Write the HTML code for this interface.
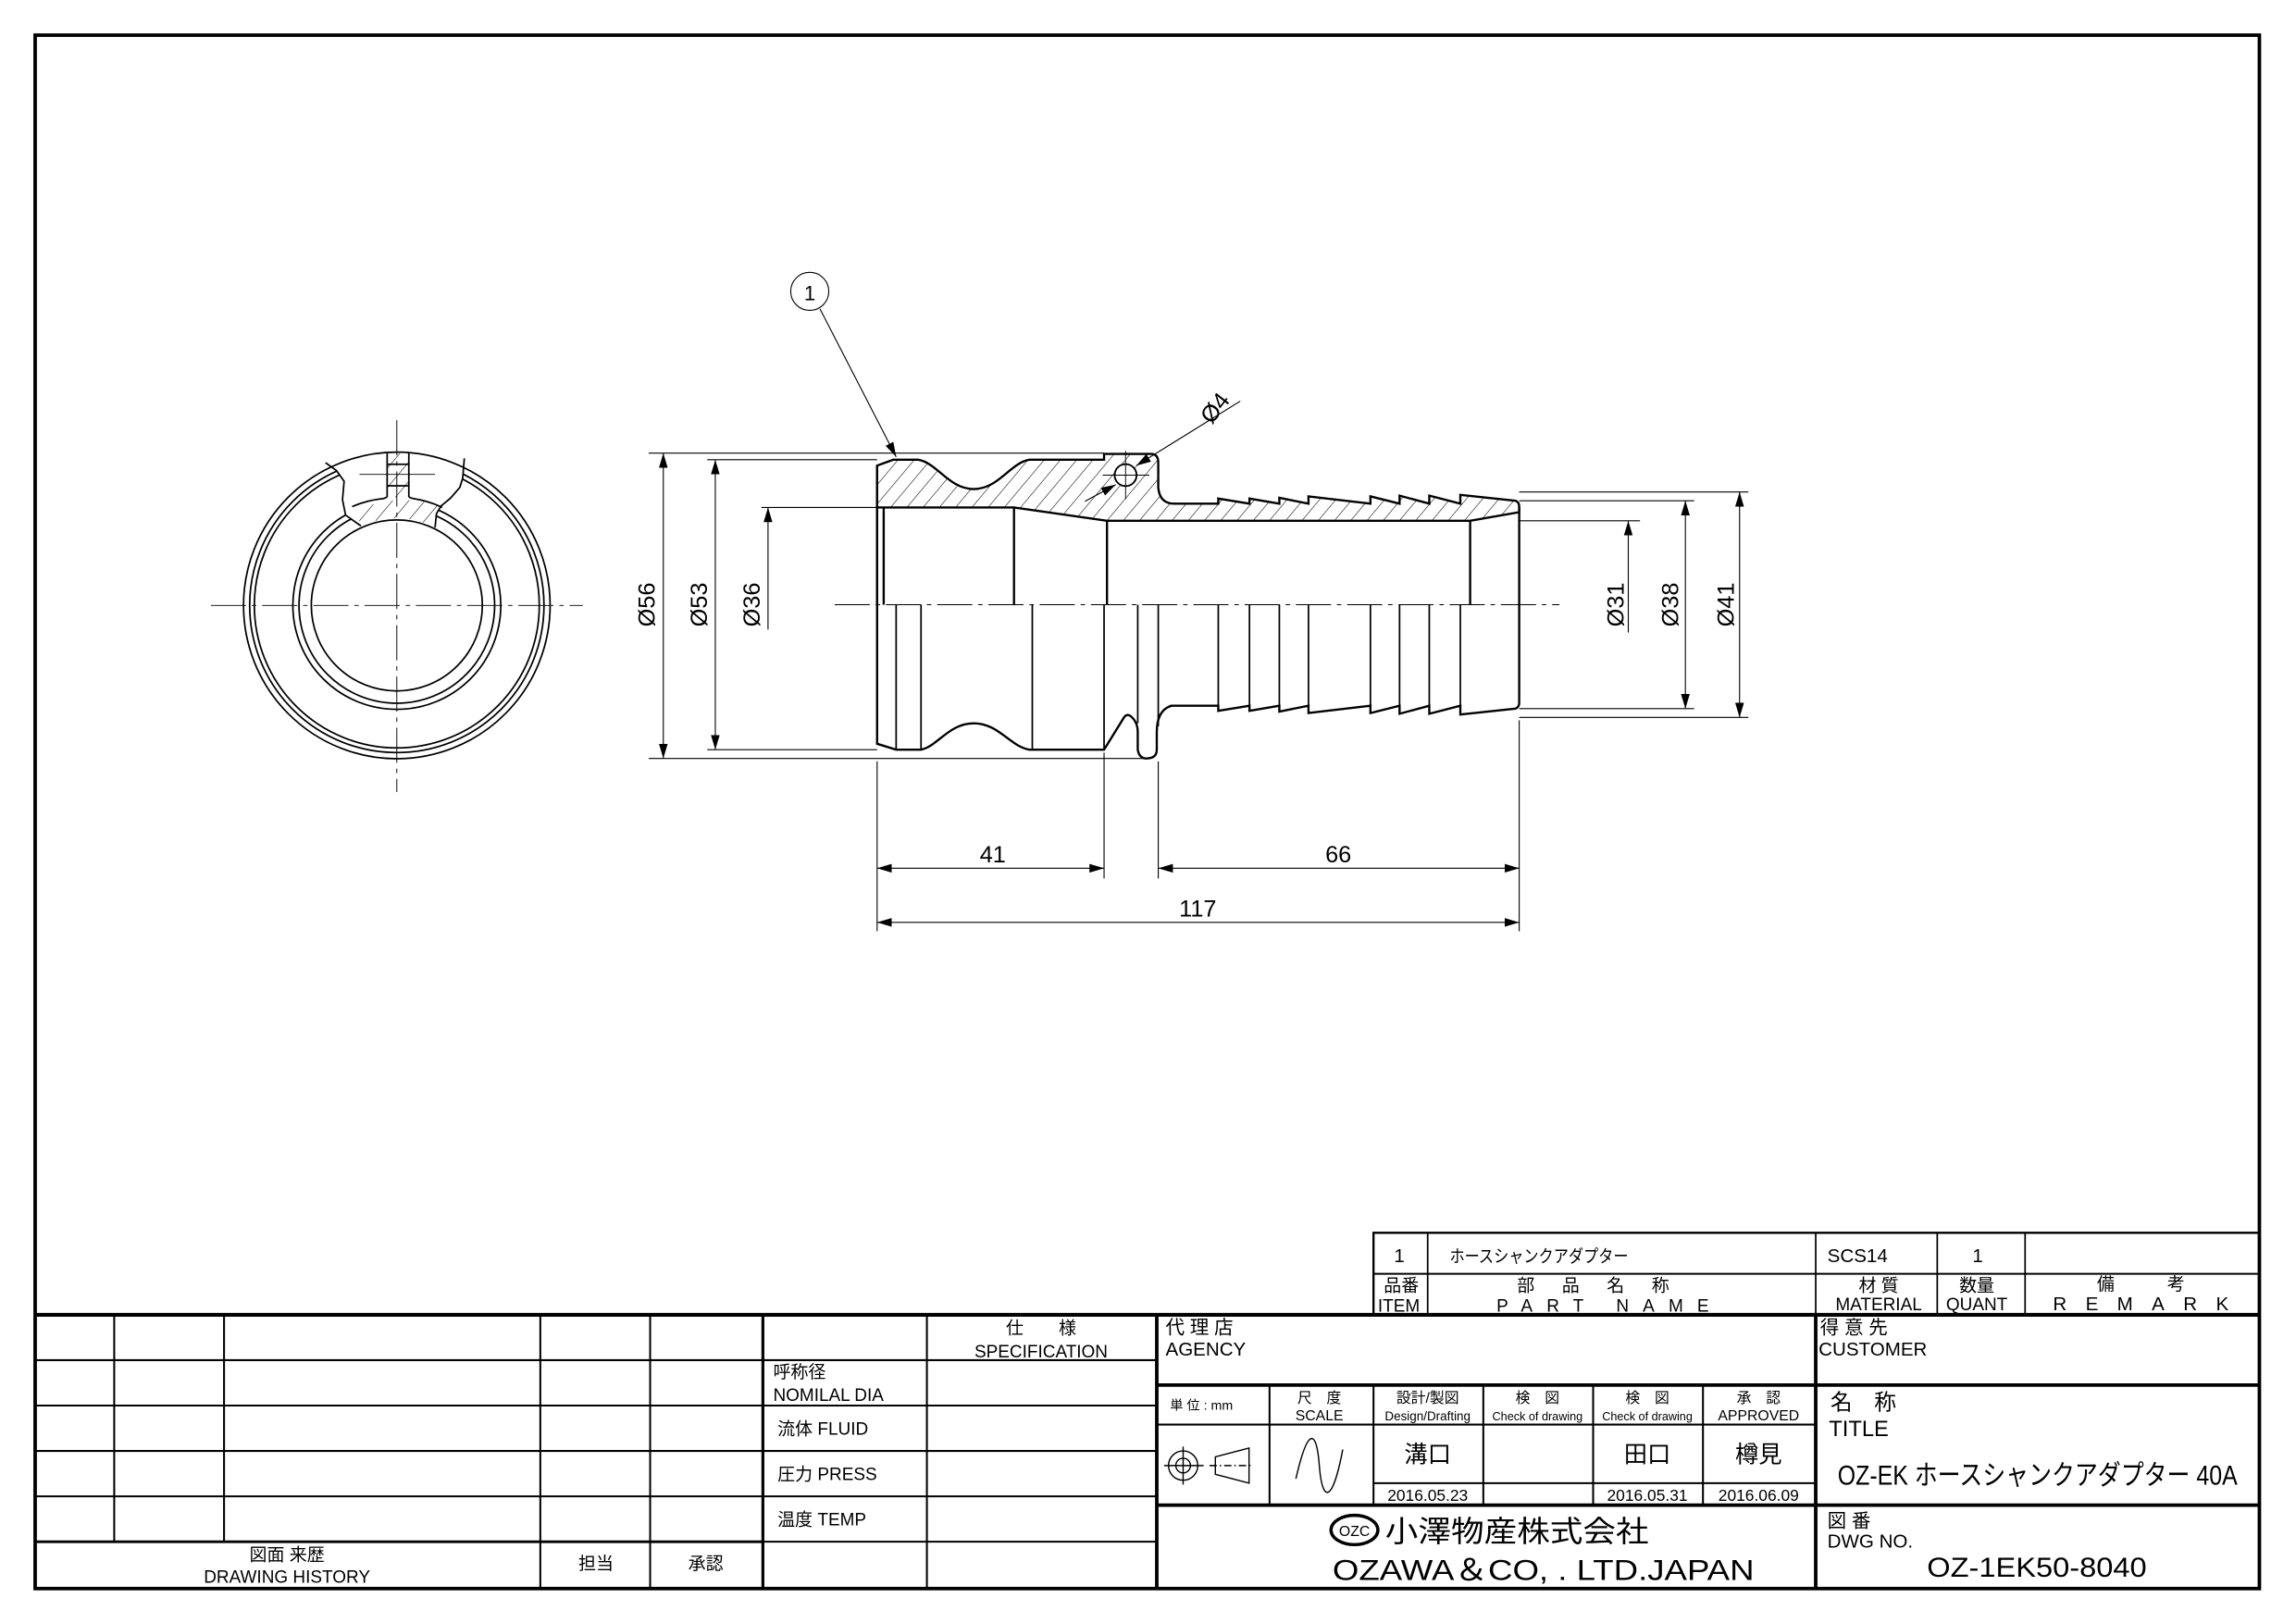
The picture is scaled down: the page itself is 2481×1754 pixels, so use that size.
<!DOCTYPE html>
<html><head><meta charset="utf-8"><style>
html,body{margin:0;padding:0;background:#fff}
svg{display:block}
text{font-family:"Liberation Sans","Noto Sans CJK JP",sans-serif;fill:#000}
</style></head><body>
<svg width="2481" height="1754" viewBox="0 0 1568 1108.5" xmlns="http://www.w3.org/2000/svg">
<defs>
<pattern id="h" patternUnits="userSpaceOnUse" width="8.5" height="8.5" patternTransform="rotate(40)">
<line x1="0" y1="0" x2="0" y2="8.5" stroke="#000" stroke-width="0.7"/></pattern>
<marker id="a" viewBox="0 0 10 6" refX="10" refY="3" markerWidth="10" markerHeight="6" markerUnits="userSpaceOnUse" orient="auto-start-reverse"><path d="M0 0L10 3L0 6Z"/></marker>
</defs>
<rect x="0" y="0" width="1568" height="1108.5" fill="#fff"/>

<!-- ===== end view ===== -->
<g fill="none" stroke="#000" stroke-width="1.1">
<circle cx="271" cy="413.5" r="100.5"/>
<circle cx="271" cy="413.5" r="97.3"/>
<circle cx="271" cy="413.5" r="71"/>
<circle cx="271" cy="413.5" r="66.8"/>
<!-- cutout white -->
<path d="M225 300 L229.7 321.3 L235 328.7 L233.9 341.3 L236 351.8 L246.5 359.2 A58.4 58.4 0 0 1 297.1 360.3 L298.1 350.8 L301.3 345.5 L307.6 340.3 L314 332.9 L316 326.6 L317.1 300 Z" fill="#fff" stroke="none"/>
<path d="M243 349 A73.5 73.5 0 0 1 301 346 L298.1 350.8 L297.1 360.3 A58.4 58.4 0 0 0 246.5 359.2 Z" fill="url(#h)" stroke="none"/>
<rect x="264.4" y="309.7" width="14.8" height="30" fill="url(#h)" stroke="none"/>
<circle cx="271" cy="413.5" r="104.7"/>
<circle cx="271" cy="413.5" r="58.4"/>
<path d="M222.3 316 L229.7 321.3 L235 328.7 L233.9 341.3 L236 351.8 L246.5 359.2"/>
<path d="M317.1 313 L316 326.6 L314 332.9 L307.6 340.3 L301.3 345.5 L298.1 350.8 L297.1 360.3"/>
<path d="M240.5 346 A73.5 73.5 0 0 1 262 340.5 L264.4 339.5 M279.2 339.5 L282 340.5 A73.5 73.5 0 0 1 302 346.5"/>
<line x1="264.4" y1="309.7" x2="264.4" y2="339.5"/>
<line x1="279.2" y1="309.7" x2="279.2" y2="339.5"/>
<line x1="264.4" y1="317.1" x2="279.2" y2="317.1"/>
<line x1="264.4" y1="331.8" x2="279.2" y2="331.8"/>
<line x1="245.5" y1="324" x2="297.1" y2="324" stroke-width="0.6"/>
<line x1="144" y1="413.5" x2="398" y2="413.5" stroke-width="0.6" stroke-dasharray="24,4,3,4"/>
<line x1="271" y1="287" x2="271" y2="541" stroke-width="0.6" stroke-dasharray="24,4,3,4"/>
</g>

<!-- ===== side section ===== -->
<path d="M599 413 L599 318 L610 314 L627 314 C640 316 648 334 665 334 C682 334 690 316 703 314 L754 314 L754 310 L786 310 Q791 310 791 316 L791 333 Q792 344 802 344 L832 344 L832 340.5 L853.3 344 L853.3 340.5 L873.7 344 L873.7 340 L893.6 344 L893.6 339 L935.9 344 L935.9 339 L955.8 344 L955.8 338.5 L976.1 344 L976.1 338.5 L997.3 344 L997.3 338 L1035 342 Q1037.5 343 1037.5 346 L1037.5 349.8 L1004 355.7 L756 355.7 L692.5 346.6 L599 346.6 Z" fill="url(#h)" stroke="#000" stroke-width="1.5"/>
<circle cx="768.7" cy="324.5" r="7.5" fill="#fff" stroke="#000" stroke-width="1.2"/>
<g stroke="#000" stroke-width="0.6" fill="none">
<line x1="768.7" y1="308" x2="768.7" y2="341"/>
<line x1="753" y1="324.5" x2="785" y2="324.5"/>
</g>
<g fill="none" stroke="#000" stroke-width="1.5">
<path d="M599 318 L599 508 L612 512 L629 512 C640 510 648 494 665 494 C682 494 690 510 703 512 L754 512 L767 491 Q769 487 772 489 Q777 493 777 500 L777 512 Q778 518 783 518 Q790 518 790 512 L790 500 Q790 485 800 482 L832 482 L832 485.5 L853.3 482 L853.3 485.5 L873.7 482 L873.7 486 L893.6 482 L893.6 487 L935.9 482 L935.9 487 L955.8 482 L955.8 487.5 L976.1 482 L976.1 487.5 L997.3 482 L997.3 488 L1035 484 Q1037.5 483 1037.5 480 L1037.5 346"/>
<line x1="603.5" y1="346.6" x2="603.5" y2="413"/>
<line x1="692.5" y1="346.6" x2="692.5" y2="413"/>
<line x1="756" y1="355.7" x2="756" y2="413"/>
<line x1="1004" y1="355.7" x2="1004" y2="413"/>
</g>
<g fill="none" stroke="#000" stroke-width="1.1">
<line x1="612" y1="413" x2="612" y2="512"/>
<line x1="629" y1="413" x2="629" y2="512"/>
<line x1="705" y1="413" x2="705" y2="512"/>
<line x1="754" y1="413" x2="754" y2="512"/>
<line x1="777" y1="413" x2="777" y2="494"/>
<line x1="791" y1="413" x2="791" y2="496"/>
<line x1="832" y1="413" x2="832" y2="485.5"/>
<line x1="853.3" y1="413" x2="853.3" y2="485.5"/>
<line x1="873.7" y1="413" x2="873.7" y2="486"/>
<line x1="893.6" y1="413" x2="893.6" y2="487"/>
<line x1="935.9" y1="413" x2="935.9" y2="487"/>
<line x1="955.8" y1="413" x2="955.8" y2="487.5"/>
<line x1="976.1" y1="413" x2="976.1" y2="487.5"/>
<line x1="997.3" y1="413" x2="997.3" y2="488"/>
</g>
<line x1="570" y1="413" x2="1065" y2="413" stroke="#000" stroke-width="0.6" stroke-dasharray="24,4,3,4"/>

<!-- dimensions -->
<g stroke="#000" stroke-width="0.7" fill="none">
<line x1="443" y1="309.5" x2="754" y2="309.5"/>
<line x1="443" y1="518" x2="783" y2="518"/>
<line x1="453" y1="309.5" x2="453" y2="518" marker-start="url(#a)" marker-end="url(#a)"/>
<line x1="483" y1="314" x2="599" y2="314"/>
<line x1="483" y1="512" x2="599" y2="512"/>
<line x1="488.5" y1="314" x2="488.5" y2="512" marker-start="url(#a)" marker-end="url(#a)"/>
<line x1="520" y1="346.6" x2="599" y2="346.6"/>
<line x1="524.5" y1="430" x2="524.5" y2="346.6" marker-end="url(#a)"/>
<line x1="1037.5" y1="355.7" x2="1120" y2="355.7"/>
<line x1="1112" y1="432" x2="1112" y2="355.7" marker-end="url(#a)"/>
<line x1="1037.5" y1="342" x2="1157" y2="342"/>
<line x1="1037.5" y1="484" x2="1157" y2="484"/>
<line x1="1151" y1="342" x2="1151" y2="484" marker-start="url(#a)" marker-end="url(#a)"/>
<line x1="1037.5" y1="336" x2="1194" y2="336"/>
<line x1="1037.5" y1="490" x2="1194" y2="490"/>
<line x1="1188" y1="336" x2="1188" y2="490" marker-start="url(#a)" marker-end="url(#a)"/>
<line x1="599" y1="520" x2="599" y2="636"/>
<line x1="754" y1="514" x2="754" y2="600"/>
<line x1="791" y1="520" x2="791" y2="600"/>
<line x1="1037.5" y1="492" x2="1037.5" y2="636"/>
<line x1="599" y1="593" x2="754" y2="593" marker-start="url(#a)" marker-end="url(#a)"/>
<line x1="791" y1="593" x2="1037.5" y2="593" marker-start="url(#a)" marker-end="url(#a)"/>
<line x1="599" y1="630" x2="1037.5" y2="630" marker-start="url(#a)" marker-end="url(#a)"/>
<circle cx="553" cy="199" r="13"/>
<line x1="560" y1="211" x2="612" y2="312" marker-end="url(#a)"/>
<line x1="847" y1="274" x2="776" y2="318" marker-end="url(#a)"/>
<line x1="741" y1="342.4" x2="762" y2="331" marker-end="url(#a)"/>
</g>
<g font-size="16">
<text x="553" y="205" text-anchor="middle" font-size="14">1</text>
<text transform="translate(447,413) rotate(-90)" text-anchor="middle">Ø56</text>
<text transform="translate(483,413) rotate(-90)" text-anchor="middle">Ø53</text>
<text transform="translate(519,413) rotate(-90)" text-anchor="middle">Ø36</text>
<text transform="translate(1109,413) rotate(-90)" text-anchor="middle">Ø31</text>
<text transform="translate(1146,413) rotate(-90)" text-anchor="middle">Ø38</text>
<text transform="translate(1184,413) rotate(-90)" text-anchor="middle">Ø41</text>
<text transform="translate(834,282) rotate(-52)" text-anchor="middle">Ø4</text>
<text x="678" y="589" text-anchor="middle">41</text>
<text x="914" y="589" text-anchor="middle">66</text>
<text x="818" y="626" text-anchor="middle">117</text>
</g>

<!-- ===== title block ===== -->
<g stroke="#000" fill="none">
<line x1="24" y1="898" x2="1543" y2="898" stroke-width="2.6"/>
<rect x="938" y="842" width="605" height="56" stroke-width="1.5"/>
<line x1="938" y1="870" x2="1543" y2="870" stroke-width="1.3"/>
<line x1="975" y1="842" x2="975" y2="898" stroke-width="1.1"/>
<line x1="1240" y1="842" x2="1240" y2="898" stroke-width="1.1"/>
<line x1="1323" y1="842" x2="1323" y2="898" stroke-width="1.1"/>
<line x1="1383" y1="842" x2="1383" y2="898" stroke-width="1.1"/>
<g stroke-width="1.3">
<line x1="24" y1="929" x2="521" y2="929"/><line x1="24" y1="960" x2="521" y2="960"/>
<line x1="24" y1="991" x2="521" y2="991"/><line x1="24" y1="1022" x2="521" y2="1022"/>
<line x1="24" y1="1053" x2="521" y2="1053" stroke-width="1.8"/>
<line x1="78" y1="898" x2="78" y2="1053"/><line x1="153" y1="898" x2="153" y2="1053"/>
<line x1="369" y1="898" x2="369" y2="1085"/><line x1="444" y1="898" x2="444" y2="1085"/>
<line x1="521" y1="898" x2="521" y2="1085" stroke-width="2"/>
<line x1="521" y1="929" x2="790" y2="929"/><line x1="521" y1="960" x2="790" y2="960"/>
<line x1="521" y1="991" x2="790" y2="991"/><line x1="521" y1="1022" x2="790" y2="1022"/>
<line x1="521" y1="1053" x2="790" y2="1053"/>
<line x1="633" y1="898" x2="633" y2="1085"/>
</g>
<line x1="790" y1="898" x2="790" y2="1085" stroke-width="2.4"/>
<line x1="1240" y1="898" x2="1240" y2="1085" stroke-width="2.4"/>
<line x1="790" y1="946" x2="1543" y2="946" stroke-width="2.4"/>
<line x1="790" y1="1028" x2="1543" y2="1028" stroke-width="2.4"/>
<g stroke-width="1.3">
<line x1="790" y1="973" x2="1240" y2="973"/>
<line x1="938" y1="1013" x2="1240" y2="1013"/>
<line x1="867" y1="946" x2="867" y2="1028"/>
<line x1="938" y1="946" x2="938" y2="1028"/>
<line x1="1013" y1="946" x2="1013" y2="1028"/>
<line x1="1088" y1="946" x2="1088" y2="1028"/>
<line x1="1163" y1="946" x2="1163" y2="1028"/>
</g>
<rect x="24" y="24" width="1519" height="1061" stroke-width="2.4"/>
<g stroke-width="0.9">
<circle cx="808" cy="1001" r="10"/><circle cx="808" cy="1001" r="5"/>
<line x1="795" y1="1001" x2="822" y2="1001"/><line x1="808" y1="988" x2="808" y2="1014"/>
<path d="M830 995 L853 989 L853 1013 L830 1007 Z"/>
<line x1="826" y1="1001" x2="856" y2="1001" stroke-dasharray="5,2,1,2"/>
<path d="M885 1010 C893 975 899 975 901 1001 C903 1027 910 1027 917 990"/>
<ellipse cx="925" cy="1045" rx="16" ry="10" stroke-width="2.2"/>
</g>
</g>
<g font-size="13">
<text x="952" y="862">1</text>
<text x="990" y="862" font-size="12" textLength="122" lengthAdjust="spacingAndGlyphs">ホースシャンクアダプター</text>
<text x="1248" y="862">SCS14</text>
<text x="1347" y="862">1</text>
<text x="945" y="882" font-size="12">品番</text>
<text x="941" y="896" font-size="12">ITEM</text>
<text x="1036" y="882" font-size="12" textLength="104">部　品　名　称</text>
<text x="1022" y="896" font-size="12" textLength="145">PART NAME</text>
<text x="1283" y="882" text-anchor="middle" font-size="12">材 質</text>
<text x="1283" y="895" text-anchor="middle" font-size="12">MATERIAL</text>
<text x="1350" y="882" text-anchor="middle" font-size="12">数量</text>
<text x="1350" y="895" text-anchor="middle" font-size="12">QUANT</text>
<text x="1462" y="881" text-anchor="middle" font-size="12">備　　　考</text>
<text x="1402" y="895" font-size="13" textLength="120">REMARK</text>
<text x="796" y="911">代 理 店</text>
<text x="796" y="926">AGENCY</text>
<text x="1243" y="911">得 意 先</text>
<text x="1242" y="926">CUSTOMER</text>
<text x="799" y="963" font-size="9">単 位 : mm</text>
<text x="901" y="958" text-anchor="middle" font-size="10">尺　度</text>
<text x="901" y="970" text-anchor="middle" font-size="10">SCALE</text>
<text x="975" y="958" text-anchor="middle" font-size="10">設計/製図</text>
<text x="975" y="970" text-anchor="middle" font-size="8.5">Design/Drafting</text>
<text x="1050" y="958" text-anchor="middle" font-size="10">検　図</text>
<text x="1050" y="970" text-anchor="middle" font-size="8">Check of drawing</text>
<text x="1125" y="958" text-anchor="middle" font-size="10">検　図</text>
<text x="1125" y="970" text-anchor="middle" font-size="8">Check of drawing</text>
<text x="1201" y="958" text-anchor="middle" font-size="10">承　認</text>
<text x="1201" y="970" text-anchor="middle" font-size="10">APPROVED</text>
<text x="975" y="999" text-anchor="middle" font-size="16">溝口</text>
<text x="1125" y="999" text-anchor="middle" font-size="16">田口</text>
<text x="1201" y="999" text-anchor="middle" font-size="16">樽見</text>
<text x="975" y="1025" text-anchor="middle" font-size="11">2016.05.23</text>
<text x="1125" y="1025" text-anchor="middle" font-size="11">2016.05.31</text>
<text x="1201" y="1025" text-anchor="middle" font-size="11">2016.06.09</text>
<text x="1250" y="963" font-size="15">名　称</text>
<text x="1249" y="981" font-size="15">TITLE</text>
<text x="1255" y="1014" font-size="19" textLength="273" lengthAdjust="spacingAndGlyphs">OZ-EK ホースシャンクアダプター 40A</text>
<text x="1248" y="1043">図 番</text>
<text x="1248" y="1057">DWG  NO.</text>
<text x="1316" y="1077" font-size="19" textLength="150" lengthAdjust="spacingAndGlyphs">OZ-1EK50-8040</text>
<text x="925" y="1049" text-anchor="middle" font-size="10">OZC</text>
<text x="946" y="1053" font-size="20" textLength="180" lengthAdjust="spacingAndGlyphs">小澤物産株式会社</text>
<text x="910" y="1079" font-size="20" textLength="288" lengthAdjust="spacingAndGlyphs">OZAWA＆CO, . LTD.JAPAN</text>
<text x="711" y="911" text-anchor="middle" font-size="12">仕　　様</text>
<text x="711" y="927" text-anchor="middle" font-size="12">SPECIFICATION</text>
<text x="528" y="941" font-size="12">呼称径</text>
<text x="528" y="957" font-size="12">NOMILAL  DIA</text>
<text x="531" y="980" font-size="12">流体  FLUID</text>
<text x="531" y="1011" font-size="12">圧力  PRESS</text>
<text x="531" y="1042" font-size="12">温度  TEMP</text>
<text x="196" y="1066" text-anchor="middle" font-size="12">図面 来歴</text>
<text x="196" y="1081" text-anchor="middle" font-size="12">DRAWING  HISTORY</text>
<text x="407" y="1072" text-anchor="middle" font-size="12">担当</text>
<text x="482" y="1072" text-anchor="middle" font-size="12">承認</text>
</g>
</svg>
</body></html>
